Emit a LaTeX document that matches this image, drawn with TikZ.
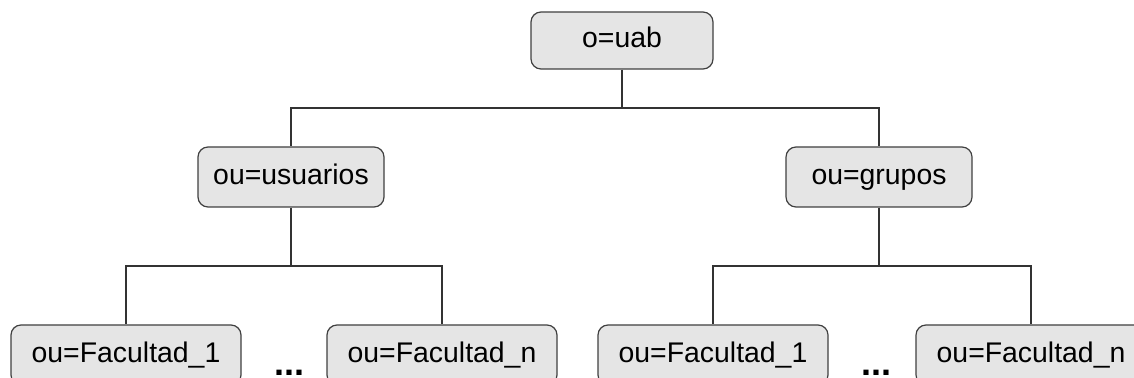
\documentclass[tikz,border=0pt]{standalone}
\usepackage{fontspec}
\setmainfont{Liberation Sans}
\begin{document}
\begin{tikzpicture}[x=0.5pt,y=-0.5pt,
    entry/.style={draw=black!75,fill=black!10,rounded corners=5pt,line width=0.6pt,
      inner sep=0pt,text height=10.2pt,text depth=3pt,font=\fontsize{14.2}{17}\selectfont},
    top/.style={entry,minimum width=91pt,minimum height=28.5pt},
    mid/.style={entry,minimum width=93pt,minimum height=30pt},
    leaf/.style={entry,minimum width=115pt,minimum height=30pt},
    more/.style={anchor=base,inner sep=0pt,text depth=0pt,font=\fontsize{18}{20}\bfseries},
    link/.style={draw=black!80,line width=0.6pt}]

      \useasboundingbox (0,0) rectangle (1134,378);
      \clip (0,0) rectangle (1134,378);

      \node[top] (uab) at (622,40.5) {o=uab}; % root
      \node[mid] (usu) at (291,177) {ou=usuarios};
      \node[mid] (gru) at (879,177) {ou=grupos};

      \node[leaf] (usu1) at (126,355) {ou=Facultad\_1};
      \node[leaf] (usun) at (442,355) {ou=Facultad\_n};
      \node[leaf] (gru1) at (713,355) {ou=Facultad\_1};
      \node[leaf] (grun) at (1031,355) {ou=Facultad\_n};

      \node[more] (dots1) at (289,376) {...};
      \node[more] (dots2) at (876,376) {...};

      \coordinate (j0) at (622,108);
      \coordinate (j1) at (291,266);
      \coordinate (j2) at (879,266);

      \draw[link] (uab.south) -- (j0);
      \draw[link] (j0) -| (usu.north);
      \draw[link] (j0) -| (gru.north);

      \draw[link] (usu.south) -- (j1);
      \draw[link] (j1) -| (usu1.north);
      \draw[link] (j1) -| (usun.north);

      \draw[link] (gru.south) -- (j2);
      \draw[link] (j2) -| (gru1.north);
      \draw[link] (j2) -| (grun.north);

    \end{tikzpicture}
\end{document}
